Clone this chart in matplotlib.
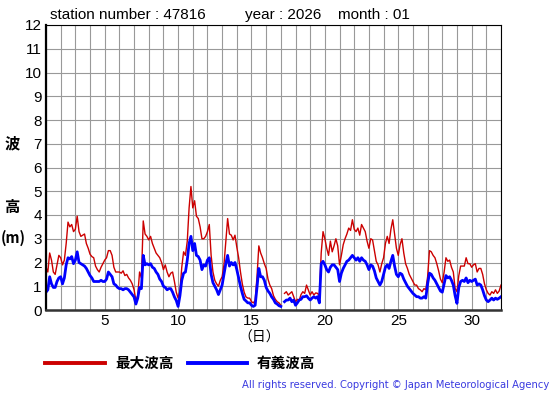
import numpy as np
import matplotlib.pyplot as plt

# 3-hourly values, day 1 00h .. day 32 00h (nan = missing)
max_wave = [
    1.8, 1.6, 2.4, 2.1, 1.6, 1.5, 1.9, 2.3,
    2.2, 1.9, 2.1, 2.8, 3.7, 3.5, 3.6, 3.3,
    3.4, 3.95, 3.3, 3.1, 3.15, 3.2, 2.8, 2.6,
    2.35, 2.25, 2.2, 1.85, 1.7, 1.6, 1.8, 1.95,
    2.1, 2.2, 2.5, 2.5, 2.3, 1.8, 1.6, 1.6,
    1.6, 1.55, 1.65, 1.45, 1.5, 1.35, 1.25, 1.1,
    0.85, 0.4, 0.6, 1.6, 1.35, 3.75, 3.2, 3.1,
    2.95, 3.1, 2.8, 2.6, 2.4, 2.3, 2.2, 2.0,
    1.7, 1.9, 1.6, 1.4, 1.55, 1.6, 1.2, 0.75,
    0.5, 0.8, 1.8, 2.45, 2.3, 2.9, 4.3, 5.2,
    4.3, 4.6, 3.95, 3.85, 3.5, 3.0, 3.0, 3.1,
    3.3, 3.6, 2.3, 1.6, 1.25, 1.1, 1.0, 1.25,
    1.4, 1.9, 2.9, 3.85, 3.2, 3.15, 2.95, 3.15,
    2.65, 2.2, 1.6, 1.1, 0.75, 0.55, 0.5, 0.5,
    0.35, 0.3, 0.4, 1.4, 2.7, 2.4, 2.2, 1.95,
    1.75, 1.3, 1.05, 0.9, 0.6, 0.45, 0.35, 0.3,
    0.2, np.nan, 0.7, 0.77, 0.63, 0.7, 0.77, 0.56,
    0.35, 0.45, 0.4, 0.65, 0.77, 0.7, 1.05, 0.84,
    0.63, 0.77, 0.63, 0.72, 0.7, 0.6, 2.4, 3.3,
    3.0, 2.6, 2.3, 2.9, 2.45, 2.7, 3.0, 2.7,
    1.9, 2.3, 2.75, 3.0, 3.2, 3.45, 3.35, 3.8,
    3.4, 3.3, 3.45, 3.15, 3.6, 3.45, 3.3, 2.9,
    2.6, 3.0, 2.95, 2.5, 2.05, 1.9, 1.6, 1.95,
    2.2, 2.8, 3.1, 2.8, 3.4, 3.8, 3.2, 2.6,
    2.3, 2.75, 3.0, 2.4, 1.95, 1.75, 1.5, 1.35,
    1.2, 1.05, 1.05, 0.9, 0.85, 0.77, 0.9, 0.85,
    1.4, 2.5, 2.45, 2.3, 2.2, 1.95, 1.65, 1.3,
    1.15, 1.6, 2.2, 2.05, 2.1, 1.8, 1.6, 0.9,
    0.77, 1.45, 1.85, 1.85, 1.85, 2.2, 1.95, 1.95,
    1.8, 1.9, 1.95, 1.6, 1.75, 1.75, 1.5, 1.1,
    0.85, 0.7, 0.63, 0.77, 0.7, 0.85, 0.7, 0.8,
    1.05,
]

sig_wave = [
    0.75, 0.85, 1.4, 1.1, 0.95, 0.95, 1.2, 1.35,
    1.4, 1.1, 1.35, 1.9, 2.2, 2.15, 2.25, 1.95,
    2.1, 2.45, 2.0, 1.95, 1.9, 1.85, 1.75, 1.6,
    1.45, 1.35, 1.2, 1.2, 1.2, 1.2, 1.25, 1.2,
    1.2, 1.3, 1.6, 1.5, 1.4, 1.1, 1.05, 0.95,
    0.9, 0.9, 0.85, 0.9, 0.9, 0.85, 0.75, 0.65,
    0.55, 0.25, 0.5, 0.95, 0.9, 2.3, 1.9, 1.95,
    1.9, 1.95, 1.8, 1.75, 1.6, 1.5, 1.3, 1.2,
    1.0, 0.95, 0.85, 0.9, 0.9, 0.75, 0.55, 0.4,
    0.15, 0.6, 1.25, 1.55, 1.6, 2.1, 2.8, 3.1,
    2.5, 2.8, 2.3, 2.25, 2.1, 1.7, 1.9, 1.85,
    2.1, 2.2, 1.5, 1.15, 1.0, 0.85, 0.65, 0.85,
    1.05, 1.5, 1.95, 2.3, 1.85, 2.0, 1.9, 2.0,
    1.7, 1.35, 1.0, 0.7, 0.45, 0.38, 0.3, 0.3,
    0.2, 0.15, 0.2, 0.95, 1.75, 1.4, 1.4, 1.25,
    0.95, 0.8, 0.7, 0.55, 0.45, 0.3, 0.25, 0.18,
    0.15, np.nan, 0.35, 0.42, 0.42, 0.5, 0.35, 0.42,
    0.2, 0.3, 0.42, 0.45, 0.56, 0.56, 0.6, 0.5,
    0.42, 0.5, 0.56, 0.5, 0.56, 0.3, 1.95, 2.05,
    1.9, 1.7, 1.6, 1.8, 1.9, 1.9, 1.8, 1.7,
    1.2, 1.55, 1.75, 1.9, 2.05, 2.1, 2.2, 2.3,
    2.2, 2.1, 2.2, 2.05, 2.2, 2.1, 2.05, 1.9,
    1.7, 1.9, 1.85, 1.65, 1.35, 1.2, 1.05, 1.2,
    1.5, 1.8, 1.9, 1.75, 2.05, 2.3, 1.85, 1.5,
    1.4, 1.55, 1.5, 1.3, 1.15, 1.0, 0.9, 0.8,
    0.7, 0.63, 0.56, 0.56, 0.5, 0.5, 0.56, 0.5,
    1.1, 1.55, 1.5, 1.35, 1.25, 1.1, 0.95, 0.8,
    0.75, 1.1, 1.45, 1.35, 1.4, 1.25, 1.05, 0.6,
    0.28, 0.95, 1.2, 1.25, 1.2, 1.35, 1.15, 1.25,
    1.2, 1.25, 1.3, 1.05, 1.1, 1.05, 0.85, 0.6,
    0.42, 0.35, 0.42, 0.5, 0.42, 0.5, 0.45, 0.5,
    0.56,
]

x_ticks = [5, 10, 15, 20, 25, 30]
y_ticks = list(range(0, 13))
legend_labels = ['最大波高', '有義波高']

days = 1 + np.arange(len(max_wave)) / 8.0

plt.rcParams['font.family'] = ['Liberation Sans', 'DejaVu Sans']
jp = ['Noto Sans CJK JP', 'DejaVu Sans']

fig = plt.figure(figsize=(5.55, 3.95), dpi=100)
ax = fig.add_axes([46 / 555, 1 - 310 / 395, 455 / 555, 285 / 395])

ax.plot(days, max_wave, color='#cc0000', lw=1.0)
ax.plot(days, sig_wave, color='#0000ff', lw=2.0)

ax.set_xlim(1, 32)
ax.set_ylim(0, 12)
ax.set_xticks(range(1, 33), minor=True)
ax.set_xticks(x_ticks)
ax.set_yticks(y_ticks)
ax.grid(True, which='both', color='#999999', lw=0.8)
ax.tick_params(which='both', length=0, labelsize=11, pad=3)
for s in ['top', 'right']:
    ax.spines[s].set_linewidth(0.8)
ax.spines['left'].set_linewidth(1.6)
ax.spines['bottom'].set_linewidth(1.8)
ax.spines['bottom'].set_color('#333333')

# header
fig.text(50 / 555, 1 - 15 / 395, 'station number : 47816', fontsize=11, va='center')
fig.text(245 / 555, 1 - 15 / 395, 'year : 2026', fontsize=11, va='center')
fig.text(338 / 555, 1 - 15 / 395, 'month : 01', fontsize=11, va='center')

# y label
fig.text(12 / 555, 1 - 143 / 395, '波', family=jp, fontsize=11, ha='center', va='center', weight='bold')
fig.text(12 / 555, 1 - 207 / 395, '高', family=jp, fontsize=11, ha='center', va='center', weight='bold')
fig.text(13 / 555, 1 - 238 / 395, '(m)', family=jp, fontsize=10.5, ha='center', va='center', weight='bold')
fig.text(259 / 555, 1 - 338 / 395, '（日）', family=jp, fontsize=10, ha='center', va='center')

# legend
fig.add_artist(plt.Line2D([45 / 555, 105 / 555], [1 - 363 / 395] * 2, color='#cc0000', lw=2.8))
fig.text(115 / 555, 1 - 363 / 395, legend_labels[0], family=jp, fontsize=10.5, weight='bold', va='center')
fig.add_artist(plt.Line2D([188 / 555, 247 / 555], [1 - 363 / 395] * 2, color='#0000ff', lw=2.8))
fig.text(257 / 555, 1 - 363 / 395, legend_labels[1], family=jp, fontsize=10.5, weight='bold', va='center')

fig.text(549 / 555, 1 - 385 / 395,
         'All rights reserved. Copyright © Japan Meteorological Agency',
         family=['DejaVu Sans'], fontsize=7.2, color='#3a3ae0', ha='right', va='center')

fig.savefig('out.png', dpi=100)
